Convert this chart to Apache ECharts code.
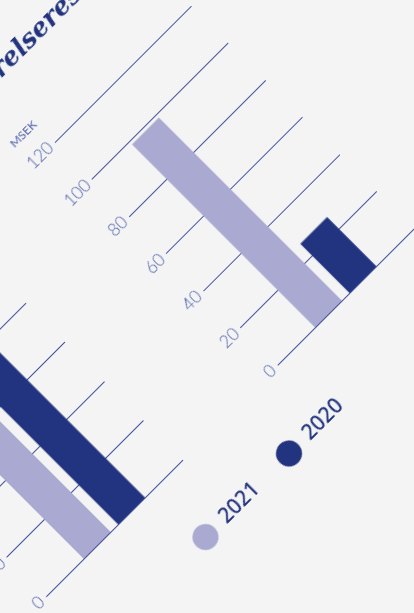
<!DOCTYPE html>
<html>
<head>
<meta charset="utf-8">
<script src="https://cdn.jsdelivr.net/npm/echarts@6/dist/echarts.min.js"></script>
<style>
html,body{margin:0;padding:0;width:414px;height:613px;overflow:hidden;background:#f4f4f4;}
#c{position:absolute;width:1000px;height:1000px;left:-364.4px;top:-135px;transform:rotate(-45deg);transform-origin:50% 50%;}
</style>
</head>
<body>
<div id="c"></div>
<script>
// Data
const categories = ['Helår'];
const seriesNames = ['2021', '2020'];
// Left panel (partly off-screen)
const leftValues2021 = [440];
const leftValues2020 = [520];
// Right panel: Rörelseresultat, MSEK
const rightValues2021 = [98.6];
const rightValues2020 = [26.5];
const rightTicks = [0, 20, 40, 60, 80, 100, 120];
const leftTicks = [0, 100, 200, 300, 400, 500, 600];
const titleText = 'Rörelseresultat';
const unitText = 'MSEK';

const DARK = '#22347f';
const LIGHT = '#a9a9d1';
const GRID = '#44519f';
const LABEL = '#5060aa';

const chart = echarts.init(document.getElementById('c'), null, {renderer: 'canvas'});

function yAxis(grid, ticks, name) {
  return {
    type: 'value', gridIndex: grid,
    min: ticks[0], max: ticks[ticks.length - 1], interval: ticks[1] - ticks[0],
    axisLine: {show: false}, axisTick: {show: false},
    axisLabel: {color: LABEL, fontSize: 17, fontFamily: 'Lato', fontWeight: 300, margin: 5},
    splitLine: {lineStyle: {color: GRID, width: 1}},
    name: name, nameLocation: 'end', nameGap: 22,
    nameTextStyle: {color: LABEL, fontSize: 12, fontFamily: 'Lato', align: 'right'}
  };
}
function xAxis(grid) {
  return {type: 'category', gridIndex: grid, data: categories, show: false};
}
function bar(name, grid, values, color) {
  return {
    name: name, type: 'bar', xAxisIndex: grid, yAxisIndex: grid, data: values,
    barWidth: 38, barGap: '28%', itemStyle: {color: color}, silent: true
  };
}

chart.setOption({
  animation: false,
  backgroundColor: '#f4f4f4',
  title: {
    text: titleText, left: 563, top: 177,
    textStyle: {color: DARK, fontSize: 26, fontFamily: 'DejaVu Serif', fontStyle: 'italic', fontWeight: 'bold'}
  },
  grid: [
    {left: 272.6, top: 267, width: 193.4, height: 333, outerBoundsMode: 'none'},
    {left: 600, top: 285, width: 193, height: 315, outerBoundsMode: 'none'}
  ],
  xAxis: [xAxis(0), xAxis(1)],
  yAxis: [yAxis(0, leftTicks, ''), yAxis(1, rightTicks, unitText)],
  legend: [
    {data: [seriesNames[0]], left: 414.5, top: 657.7, padding: 0, icon: 'circle', itemWidth: 26, itemHeight: 26,
     textStyle: {color: DARK, fontSize: 21, fontFamily: 'Noto Sans', fontWeight: 500, padding: [0, 0, 0, 6]}},
    {data: [seriesNames[1]], left: 532.6, top: 657.7, padding: 0, icon: 'circle', itemWidth: 26, itemHeight: 26,
     textStyle: {color: DARK, fontSize: 21, fontFamily: 'Noto Sans', fontWeight: 500, padding: [0, 0, 0, 6]}}
  ],
  series: [
    bar(seriesNames[0], 0, leftValues2021, LIGHT),
    bar(seriesNames[1], 0, leftValues2020, DARK),
    bar(seriesNames[0], 1, rightValues2021, LIGHT),
    bar(seriesNames[1], 1, rightValues2020, DARK)
  ]
});
</script>
</body>
</html>
